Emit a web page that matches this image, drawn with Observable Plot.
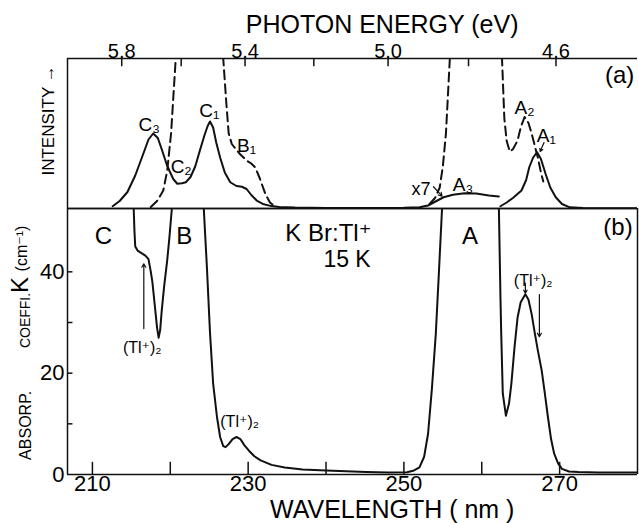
<!DOCTYPE html>
<html><head><meta charset="utf-8">
<script src="https://cdn.jsdelivr.net/npm/d3@7"></script>
<script src="https://cdn.jsdelivr.net/npm/@observablehq/plot@0.6"></script>
<style>
body{margin:0;background:#fff;}
#wrap{position:relative;width:639px;height:523px;overflow:hidden;background:#fff;}
#a{position:absolute;left:0;top:0;}
#b{position:absolute;left:0;top:204px;}
svg{overflow:visible;}
</style></head><body><div id="wrap"><div id="a"></div><div id="b"></div></div>
<script>
// ---------- data (wavelength nm, value) ----------
const xDomain = [206.8, 280];
const energyTicks = [5.8, 5.6, 5.4, 5.2, 5.0, 4.8, 4.6];
const energyLabels = [5.8, 5.4, 5.0, 4.6];
const wlTicks = [210, 220, 230, 240, 250, 260, 270];
const wlLabels = [210, 230, 250, 270];
const kTicks = [10, 20, 30, 40];
const kLabels = [0, 20, 40];

// (a) emission (solid), arbitrary intensity 0..100
const emissionCBA3 = [[212.6,1.5],[213.5,5],[214.5,11],[215.5,22],[216.5,36],[217.2,46],[217.8,50],[218.4,47],[219.0,38],[219.5,30],[219.9,25],[220.4,19.5],[220.9,16.5],[221.5,16.8],[222.0,17.5],[222.6,21],[223.2,28],[223.8,38.7],[224.4,49],[224.8,55],[225.1,58],[225.5,54],[225.9,44],[226.4,34],[227.0,24],[227.7,17.5],[228.5,15],[229.2,14.5],[229.8,13],[230.4,9],[231.1,5.3],[232.0,2.8],[233.0,1.6],[234.0,1.0],[236,0.6],[240,0.4],[245,0.4],[250,0.5],[252.0,0.8],[253.1,2],[254.0,4.5],[255.1,7.5],[256.3,9.2],[257.8,10.2],[259.3,10],[260.9,8.7],[262.2,8]];
const emissionA1 = [[262.4,1.5],[263.2,4],[264.0,7],[265.1,12],[265.7,19],[266.1,27.5],[266.6,34],[267.1,37.5],[267.6,33],[268.2,23],[268.8,14],[269.5,7.5],[270.3,3],[271.3,0.8],[273,0.3],[280,0.2]];
// (a) excitation (dashed)
const excC1 = [[217.5,1],[218.3,5],[219.1,12],[219.6,25],[220.1,50],[220.4,75],[220.7,100],[221.0,120]];
const excC2 = [[226.4,120],[226.8,100],[227.2,70],[227.5,50],[227.9,43],[228.2,41],[229.0,36],[229.8,32],[230.4,30],[230.9,27.5],[231.5,20],[232.2,9.8],[232.8,4],[233.5,1]];
const excA1 = [[253.3,3],[254.0,7],[254.6,14],[255.0,28],[255.4,50],[255.7,80],[255.9,100],[256.1,120]];
const excA2 = [[262.5,120],[262.6,100],[262.9,60],[263.2,45],[263.6,38],[264.0,39.5],[264.6,45.3],[265.0,54],[265.5,61],[266.0,57],[266.4,50],[266.8,42],[267.2,34],[267.6,24],[267.9,18]];

// (b) absorption coefficient K (cm-1)
const absCB = [[215.2,60],[215.3,52.5],[215.4,48],[215.5,45],[215.8,44.2],[216.2,43.8],[216.8,43.2],[217.2,42.5],[217.5,40],[217.7,38],[218.0,33.5],[218.3,29],[218.5,27],[218.7,28.5],[218.9,32.3],[219.2,37],[219.6,42.2],[219.9,47],[220.2,52.5],[220.3,60]];
const absBA = [[224.2,60],[224.3,52.5],[224.7,41],[225.1,28],[225.5,18],[226.0,11.3],[226.4,7.4],[226.8,5.6],[227.1,5.4],[227.5,6],[228.0,7],[228.5,7.4],[229.0,7],[229.5,5.8],[230.1,4.7],[230.8,3.6],[231.6,2.8],[233.0,1.9],[234.7,1.4],[237.0,1.0],[240.0,0.8],[245.2,0.5],[248,0.4],[250.4,0.45],[251.3,0.8],[252.0,1.4],[252.6,3.5],[253.1,8],[253.6,17],[254.1,27.8],[254.5,40],[254.9,52.5],[255.0,60]];
const absA = [[262.1,60],[262.2,52.5],[262.4,35],[262.5,27.8],[262.7,16],[263.1,11.6],[263.5,14],[263.8,17.9],[264.2,25],[264.6,31],[265.0,34],[265.6,35.6],[266.0,34.5],[266.4,31.7],[266.8,28],[267.2,24.5],[267.7,20.5],[268.1,16],[268.5,11.3],[268.9,7],[269.3,4.1],[269.8,2.2],[270.3,1.1],[271.2,0.6],[272.4,0.5],[275,0.4],[280,0.4]];

// annotations
const aText = ["C₃","C₂","C₁","B₁","x7","A₃","A₂","A₁","(a)"];
const aTextX = [217.3,221.4,225.0,229.8,252.2,257.6,265.5,268.3,277.7];
const aTextY = [56,28,65,42,13,15.5,67,48.5,89];
const aTextSize = [19,19,19,19,18,19,19,19,24];
const aArrows = [[253.8,14.5,254.9,8.2],[268.0,44,267.5,38]];

const bText = ["C","B","K Br:Tl⁺","15 K","A","(b)","(Tl⁺)₂","(Tl⁺)₂","(Tl⁺)₂"];
const bTextX = [211.4,221.8,240.3,242.7,258.5,277.5,216.4,228.9,266.6];
const bTextY = [47.1,47.1,47.6,42.5,47,48.7,25,10.3,38.3];
const bTextSize = [24,24,24,23,24,24,16,16,16];
const bArrows = [[216.6,28.8,216.6,41.6],[265.6,37.8,265.6,35.8],[267.4,35.5,267.4,27.2]];

const FONT = "Liberation Sans, DejaVu Sans, Arial, sans-serif";
const xy = {x: d => d[0], y: d => d[1]};
const lam = e => 1239.84 / e;
const rot = {frameAnchor: "left", textAnchor: "middle", rotate: -90};

const plotA = Plot.plot({
  width: 639, height: 212,
  marginTop: 58, marginBottom: 4, marginLeft: 67, marginRight: 2,
  x: {domain: xDomain},
  y: {domain: [0, 100], axis: null},
  style: {background: "none", fontFamily: FONT, overflow: "visible"},
  marks: [
    Plot.ruleY([100, 0], {stroke: "#111", strokeWidth: 1.5}),
    Plot.ruleX([xDomain[0]], {stroke: "#111", strokeWidth: 1.5}),
    Plot.ruleX(energyTicks, {x: lam, y1: 100, y2: 94.5, stroke: "#111", strokeWidth: 1.5}),
    Plot.axisX(energyLabels.map(lam), {anchor: "top", tickSize: 0, tickPadding: 1, fontSize: 20, tickFormat: v => (1239.84 / v).toFixed(1)}),
    Plot.text(["PHOTON ENERGY (eV)"], {x: 247.2, frameAnchor: "top", dy: -43, fontSize: 25}),
    Plot.text(["INTENSITY →"], {...rot, dx: -19, y: 58.7, fontSize: 17}),
    Plot.line(emissionCBA3, {...xy, stroke: "#111", strokeWidth: 2, clip: true}),
    Plot.line(emissionA1, {...xy, stroke: "#111", strokeWidth: 2, clip: true}),
    ...[excC1, excC2, excA1, excA2].map(s => Plot.line(s, {...xy, stroke: "#111", strokeWidth: 2, strokeDasharray: "9,5", clip: true})),
    Plot.text(aText, {x: (d, i) => aTextX[i], y: (d, i) => aTextY[i], fontSize: (d, i) => aTextSize[i], text: d => d}),
    Plot.arrow(aArrows, {x1: d => d[0], y1: d => d[1], x2: d => d[2], y2: d => d[3], stroke: "#111", strokeWidth: 1.2, headLength: 5})
  ]
});
document.getElementById("a").append(plotA);

const plotB = Plot.plot({
  width: 639, height: 319,
  marginTop: 4, marginBottom: 49, marginLeft: 67, marginRight: 2,
  x: {domain: xDomain},
  y: {domain: [0, 52.5]},
  style: {background: "none", fontFamily: FONT, overflow: "visible"},
  marks: [
    Plot.ruleY([52.5, 0], {stroke: "#111", strokeWidth: 1.5}),
    Plot.ruleX(xDomain, {stroke: "#111", strokeWidth: 1.5}),
    Plot.ruleX(wlTicks, {y1: 0, y2: 2.4, stroke: "#111", strokeWidth: 1.5}),
    Plot.ruleY(kTicks, {x1: xDomain[0], x2: xDomain[0] + 0.7, stroke: "#111", strokeWidth: 1.5}),
    Plot.axisX(wlLabels, {anchor: "bottom", tickSize: 0, tickPadding: 1, fontSize: 22}),
    Plot.axisY(kLabels, {anchor: "left", tickSize: 0, tickPadding: 3, fontSize: 22}),
    Plot.text(["WAVELENGTH ( nm )"], {x: 248.5, frameAnchor: "bottom", dy: 43, fontSize: 25}),
    Plot.text(["ABSORP."], {...rot, dx: -42, y: 9.7, fontSize: 16}),
    Plot.text(["COEFFI."], {...rot, dx: -42, y: 30.4, fontSize: 14}),
    Plot.text(["K"], {...rot, dx: -47, y: 37.4, fontSize: 24}),
    Plot.text(["(cm⁻¹)"], {...rot, dx: -46, y: 44.6, fontSize: 16}),
    ...[absCB, absBA, absA].map(s => Plot.line(s, {...xy, stroke: "#111", strokeWidth: 2, clip: true})),
    Plot.text(bText, {x: (d, i) => bTextX[i], y: (d, i) => bTextY[i], fontSize: (d, i) => bTextSize[i], text: d => d}),
    Plot.arrow(bArrows, {x1: d => d[0], y1: d => d[1], x2: d => d[2], y2: d => d[3], stroke: "#111", strokeWidth: 1.2, headLength: 5})
  ]
});
document.getElementById("b").append(plotB);
</script>
</body></html>
